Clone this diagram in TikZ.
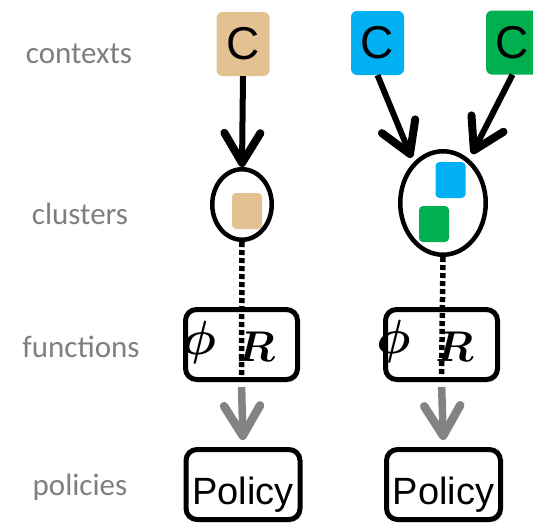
\documentclass[tikz,border=0pt]{standalone}
\usepackage{fontspec}
\setmainfont{Liberation Sans}
\newfontfamily\labelfont{Carlito}
\usepackage{bm}
\usetikzlibrary{arrows.meta,shapes.geometric,shadows}
\definecolor{ctxtan}{HTML}{E3C193}
\definecolor{ctxblue}{HTML}{00B0F0}
\definecolor{ctxgreen}{HTML}{00B050}
\definecolor{lblgray}{HTML}{7F7F7F}
\definecolor{arrgray}{HTML}{838383}
\begin{document}
\begin{tikzpicture}[x=1pt,y=-1pt,
  ctxbox/.style={rectangle, rounded corners=6pt, minimum width=53pt, minimum height=64pt, inner sep=0pt, font=\fontsize{46}{46}\selectfont},
  rowlabel/.style={anchor=base, text=lblgray, font=\labelfont\fontsize{31}{31}\selectfont, inner sep=0pt},
  cluster/.style={ellipse, draw, line width=4.5pt, inner sep=0pt},
  member/.style={rectangle, rounded corners=4pt, minimum width=30pt, minimum height=36pt, inner sep=0pt},
  softshadow/.style={drop shadow={shadow xshift=2pt, shadow yshift=-2.5pt, opacity=0.25, fill=black}},
  funcbox/.style={rectangle, draw, fill=white, line width=5pt, rounded corners=11pt, minimum width=112pt, minimum height=70pt, inner sep=0pt, softshadow},
  polbox/.style={rectangle, draw, fill=white, line width=5pt, rounded corners=11pt, minimum width=114pt, minimum height=70pt, inner sep=0pt, text height=39pt, text depth=0pt, font=\fontsize{38}{38}\selectfont, softshadow},
  sym/.style={inner sep=0pt},
  blackarrow/.style={line width=6pt, -{Straight Barb[length=30pt,width=36pt,line width=8pt,round]}},
  grayarrow/.style={draw=arrgray, line width=7.5pt, -{Straight Barb[length=30pt,width=36pt,line width=8.5pt,round]}},
  dotline/.style={line width=5.5pt, dash pattern=on 5pt off 3pt}
]
\useasboundingbox (0,0) rectangle (533,525);

% row labels
\node[rowlabel] (lctx) at (79,63) {contexts};
\node[rowlabel] (lclu) at (80,224) {clusters};
\node[rowlabel] (lfun) at (81,357) {functions};
\node[rowlabel] (lpol) at (80,495) {policies};

% contexts
\node[ctxbox, fill=ctxtan] (ctan) at (243,44) {C};
\node[ctxbox, fill=ctxblue] (cblue) at (377.5,43) {C};
\node[ctxbox, fill=ctxgreen] (cgreen) at (512.5,42.5) {C};

% clusters
\node[cluster, minimum width=59.5pt, minimum height=70.5pt] (cl1) at (242,204.5) {};
\node[member, fill=ctxtan] (m1) at (247,211) {};
\node[cluster, minimum width=85.5pt, minimum height=103.5pt] (cl2) at (443,203) {};
\node[member, fill=ctxblue] (m2) at (450.5,180) {};
\node[member, fill=ctxgreen] (m3) at (434,224) {};

% context -> cluster arrows
\draw[blackarrow] (ctan.south) -- (cl1.north);
\draw[blackarrow, shorten >=5pt] (cblue.south) -- (cl2.126);
\draw[blackarrow, shorten >=6pt] (cgreen.south) -- (cl2.59);

% functions
\node[funcbox] (f1) at (241.5,344.5) {};
\node[funcbox] (f2) at (441.5,344.5) {};

% policies
\node[polbox] (p1) at (243,484.5) {Policy};
\node[polbox] (p2) at (443.5,484.5) {Policy};

% dotted links cluster -> function
\draw[dotline, shorten >=7pt] (cl1.south) -- (f1.south);
\draw[dotline, shorten >=7pt] (cl2.south) -- (f2.south);

% symbols
\node[sym] (phi1) at (199,342.5) {\scalebox{4.8}{$\bm{\phi}$}};
\node[sym] (r1) at (256,346.5) {\scalebox{4.3}{$\bm{R}$}};
\node[sym] (phi2) at (393.5,341.5) {\scalebox{4.8}{$\bm{\phi}$}};
\node[sym] (r2) at (454.5,346.5) {\scalebox{4.3}{$\bm{R}$}};

% function -> policy arrows
\draw[grayarrow, shorten <=5pt, shorten >=7pt] (f1.south) -- (p1.north);
\draw[grayarrow, shorten <=5pt, shorten >=7pt] (f2.south) -- (p2.north);
\end{tikzpicture}
\end{document}
